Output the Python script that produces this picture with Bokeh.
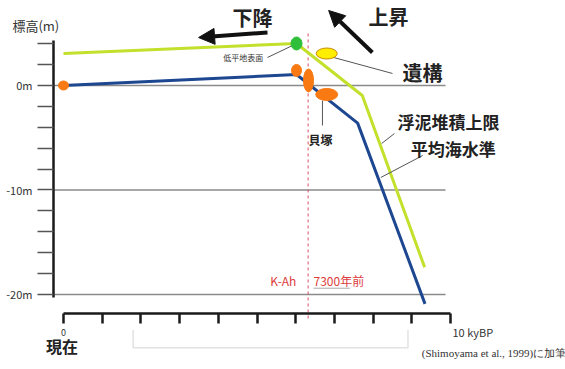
from bokeh.plotting import figure
from bokeh.models import Range1d, FixedTicker, Label, Arrow, NormalHead, LinearAxis
from bokeh.embed import file_html
from bokeh.resources import INLINE

# ---- data -------------------------------------------------------------
# time axis in kyBP, elevation in metres
time_ticks = list(range(0, 11))
time_tick_labels = {0: "0"}
elev_ticks = [4, 2, 0, -2, -4, -6, -8, -10, -12, -14, -16, -18, -20]
elev_tick_labels = {0: "0m", -10: "-10m", -20: "-20m"}
grid_levels = [0, -10, -20]

# upper limit of mud deposition (浮泥堆積上限)
mud_t = [0.0, 6.02, 7.72, 9.33]
mud_z = [3.06, 4.02, -0.96, -17.4]

# mean sea level (平均海水準)
msl_t = [0.0, 6.02, 7.6, 9.34]
msl_z = [0.0, 1.05, -3.6, -20.9]

# shell middens / sites (orange)
midden_t = [0.0, 6.02, 6.33, 6.8]
midden_z = [0.0, 1.44, 0.48, -0.86]

# lowland surface (green) and archaeological feature (yellow)
surface_t, surface_z = [6.02], [4.02]
feature_t, feature_z = [6.8], [3.06]

# K-Ah tephra
kah_t = 6.32

# ---- figure -----------------------------------------------------------
JP = "Noto Sans CJK JP"

p = figure(width=565, height=369, output_backend="svg", toolbar_location=None,
           x_range=Range1d(-1.628, 12.97), y_range=Range1d(-27.18, 8.134),
           x_axis_location=None, y_axis_location=None,
           min_border=0)
p.outline_line_color = None
p.background_fill_color = "white"
p.border_fill_color = "white"
p.grid.visible = False

# elevation axis, pinned inside the frame
yax = LinearAxis(ticker=FixedTicker(ticks=elev_ticks), bounds=(-20.3, 4.3),
                 fixed_location=-0.258)
yax.axis_line_width = 2.5
yax.axis_line_color = "#1a1a1a"
yax.major_tick_out = 16
yax.major_tick_in = 0
yax.major_tick_line_color = "#555555"
yax.major_tick_line_width = 1.5
yax.minor_tick_line_color = None
yax.major_label_overrides = {t: elev_tick_labels.get(t, "") for t in elev_ticks}
yax.major_label_text_font = JP
yax.major_label_text_font_size = "11px"
yax.major_label_text_color = "#333333"
yax.major_label_standoff = 5
p.add_layout(yax, "left")

# time axis, pinned below the section
xax = LinearAxis(ticker=FixedTicker(ticks=time_ticks), bounds=(0, 10),
                 fixed_location=-21.82)
xax.axis_line_width = 2.5
xax.axis_line_color = "#1a1a1a"
xax.major_tick_out = 10
xax.major_tick_in = 0
xax.major_tick_line_color = "#1a1a1a"
xax.major_tick_line_width = 2.5
xax.minor_tick_line_color = None
xax.major_label_overrides = {t: time_tick_labels.get(t, "") for t in time_ticks}
xax.major_label_text_font = JP
xax.major_label_text_font_size = "9px"
xax.major_label_text_color = "#333333"
xax.major_label_standoff = 6
p.add_layout(xax, "below")

# reference levels
p.segment(x0=[-0.258] * len(grid_levels), y0=grid_levels,
          x1=[9.87] * len(grid_levels), y1=grid_levels,
          line_color="#8a8a8a", line_width=1.5)

# K-Ah marker
p.segment(x0=[kah_t], y0=[4.98], x1=[kah_t], y1=[-22.3],
          line_color="#d94b6e", line_width=1, line_dash="3 3")

# curves
p.line(mud_t, mud_z, line_color="#c2e02c", line_width=3)
p.line(msl_t, msl_z, line_color="#1d4790", line_width=3)

# leader lines
leaders = [
    ((5.27, 2.68), (5.92, 3.83)),   # 低平地表面
    ((6.98, 2.68), (8.50, 1.15)),   # 遺構
    ((6.69, -1.44), (6.69, -3.83)), # 貝塚
    ((8.22, -5.55), (8.55, -4.60)), # 浮泥堆積上限
    ((8.20, -8.80), (9.28, -6.70)), # 平均海水準
]
p.segment(x0=[a[0] for a, b in leaders], y0=[a[1] for a, b in leaders],
          x1=[b[0] for a, b in leaders], y1=[b[1] for a, b in leaders],
          line_color="#555555", line_width=1)

# faint frame under the time axis
p.line([1.8, 1.8, 8.9, 8.9], [-23.4, -25.1, -25.1, -23.4],
       line_color="#e2e2e2", line_width=1.5)

# markers
p.ellipse(midden_t, midden_z, width=[10, 10, 10, 22], height=[9, 12, 23, 12],
          width_units="screen", height_units="screen",
          fill_color="#f97a12", line_color="#f97a12")
p.ellipse(surface_t, surface_z, width=11, height=13,
          width_units="screen", height_units="screen",
          fill_color="#2fbf3a", line_color="#2fbf3a")
p.ellipse(feature_t, feature_z, width=21, height=11,
          width_units="screen", height_units="screen",
          fill_color="#ffee00", line_color="#c98a00", line_width=1)

# trend arrows
p.add_layout(Arrow(end=NormalHead(size=16, fill_color="#111111", line_color="#111111"),
                   x_start=5.27, y_start=5.07, x_end=3.49, y_end=4.59,
                   line_color="#111111", line_width=4))
p.add_layout(Arrow(end=NormalHead(size=16, fill_color="#111111", line_color="#111111"),
                   x_start=7.98, y_start=3.16, x_end=6.85, y_end=7.18,
                   line_color="#111111", line_width=4))


def label(x, y, text, size, color="#222222", align="left", style="normal",
          font=JP, baseline="middle"):
    p.add_layout(Label(x=x, y=y, text=text, text_font=font,
                       text_font_size=size, text_color=color, text_align=align,
                       text_baseline=baseline, text_font_style=style))


label(4.88, 6.5, "下降", "20px", align="center", style="bold")
label(8.4, 6.6, "上昇", "20px", align="center", style="bold")
label(4.13, 2.68, "低平地表面", "8px", color="#333333")
label(8.76, 1.24, "遺構", "20px", style="bold")
label(6.33, -5.17, "貝塚", "12px", style="bold")
label(8.63, -3.44, "浮泥堆積上限", "17px", style="bold")
label(8.97, -6.03, "平均海水準", "17px", style="bold")
label(5.68, -18.66, "K-Ah", "12px", color="#dc3c3c", align="center")
label(6.46, -18.66, "7300年前", "12px", color="#dc3c3c")
p.segment(x0=[6.46], y0=[-19.4], x1=[7.4], y1=[-19.4], line_color="#aaaaaa", line_width=1)

label(-1.32, 5.74, "標高(m)", "13px", color="#333333")
label(-0.04, -24.9, "現在", "16px", align="center", style="bold")
label(10.05, -23.6, "10 kyBP", "11px", color="#333333")
label(12.99, -25.6, "(Shimoyama et al., 1999)に加筆", "11px", color="#333333",
      align="right", font="Liberation Serif")

open("out.html", "w").write(file_html(p, INLINE))
